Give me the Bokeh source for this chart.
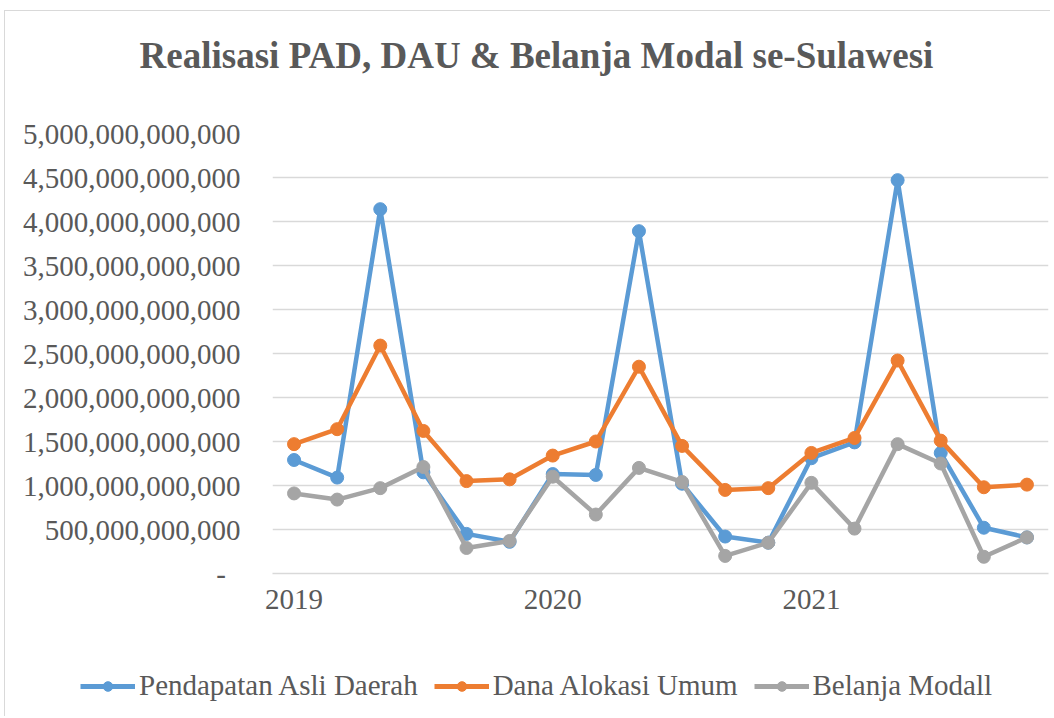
from bokeh.plotting import figure
from bokeh.models import Range1d, FixedTicker, Legend, LegendItem, Label
from bokeh.layouts import column
from bokeh.embed import file_html
from bokeh.resources import INLINE

# ---- data ----
periods = list(range(18))  # 6 periods per year, 2019-2021
year_ticks = [0, 6, 12]
year_labels = ["2019", "2020", "2021"]

pad = [1.29e12, 1.09e12, 4.14e12, 1.15e12, 0.45e12, 0.36e12,
       1.13e12, 1.12e12, 3.89e12, 1.02e12, 0.42e12, 0.35e12,
       1.31e12, 1.49e12, 4.47e12, 1.37e12, 0.52e12, 0.41e12]
dau = [1.47e12, 1.64e12, 2.59e12, 1.62e12, 1.05e12, 1.07e12,
       1.34e12, 1.50e12, 2.35e12, 1.45e12, 0.95e12, 0.97e12,
       1.37e12, 1.54e12, 2.42e12, 1.51e12, 0.98e12, 1.01e12]
belanja = [0.91e12, 0.84e12, 0.97e12, 1.21e12, 0.29e12, 0.37e12,
           1.10e12, 0.67e12, 1.20e12, 1.04e12, 0.20e12, 0.35e12,
           1.03e12, 0.51e12, 1.47e12, 1.25e12, 0.19e12, 0.41e12]

series_names = ["Pendapatan Asli Daerah", "Dana Alokasi Umum", "Belanja Modall"]
series_colors = ["#5b9bd5", "#ed7d31", "#a5a5a5"]

y_ticks = [0, 0.5e12, 1e12, 1.5e12, 2e12, 2.5e12, 3e12, 3.5e12, 4e12, 4.5e12, 5e12]
y_tick_labels = ["-\u00a0\u00a0", "500,000,000,000", "1,000,000,000,000", "1,500,000,000,000",
                 "2,000,000,000,000", "2,500,000,000,000", "3,000,000,000,000",
                 "3,500,000,000,000", "4,000,000,000,000", "4,500,000,000,000",
                 "5,000,000,000,000"]

title_text = "Realisasi PAD, DAU & Belanja Modal se-Sulawesi"

FONT = "Liberation Serif"
TXT = "#595959"
GRID = "#d9d9d9"
W = 1045  # content starts at page x=5 (4px margin + 1px border)

# ---- title strip ----
hd = figure(width=W, height=89, output_backend="svg", toolbar_location=None,
            x_range=Range1d(0, W), y_range=Range1d(0, 89),
            x_axis_type=None, y_axis_type=None,
            min_border_left=0, min_border_right=0, min_border_top=0, min_border_bottom=0)
hd.frame_align = False
hd.outline_line_color = None
hd.xgrid.grid_line_color = None
hd.ygrid.grid_line_color = None
hd.add_layout(Label(x=531, y=45, text=title_text, text_align="center",
                    text_baseline="middle", text_font=FONT, text_font_size="37px",
                    text_font_style="bold", text_color=TXT))

# ---- main chart ----
p = figure(width=W, height=550, output_backend="svg", toolbar_location=None,
           x_range=Range1d(-0.5, 17.5), y_range=Range1d(0, 5e12),
           min_border_left=267, min_border_right=2, min_border_top=33,
           min_border_bottom=77)
p.frame_align = False
p.outline_line_color = None
p.background_fill_color = "white"
p.border_fill_color = "white"

p.xaxis.ticker = FixedTicker(ticks=year_ticks)
p.xaxis.major_label_overrides = {t: l for t, l in zip(year_ticks, year_labels)}
p.xaxis.axis_line_color = GRID
p.xaxis.axis_line_width = 1.5
p.xaxis.major_tick_line_color = None
p.xaxis.minor_tick_line_color = None
p.xaxis.major_tick_out = 0
p.xaxis.major_label_standoff = 16
p.xaxis.major_label_text_font = FONT
p.xaxis.major_label_text_font_size = "29px"
p.xaxis.major_label_text_color = TXT

p.yaxis.ticker = FixedTicker(ticks=y_ticks)
p.yaxis.major_label_overrides = {t: l for t, l in zip(y_ticks, y_tick_labels)}
p.yaxis.axis_line_color = None
p.yaxis.major_tick_line_color = None
p.yaxis.minor_tick_line_color = None
p.yaxis.major_tick_out = 0
p.yaxis.major_label_standoff = 32
p.yaxis.major_label_text_font = FONT
p.yaxis.major_label_text_font_size = "29px"
p.yaxis.major_label_text_color = TXT

p.xgrid.grid_line_color = None
p.ygrid.ticker = FixedTicker(ticks=y_ticks)
p.ygrid.grid_line_color = GRID
p.ygrid.grid_line_width = 1.5

for vals, col in zip([pad, dau, belanja], series_colors):
    p.line(periods, vals, line_color=col, line_width=4.5, line_join="round")
    p.scatter(periods, vals, marker="circle", size=13, fill_color=col, line_color=col)

# ---- legend strip (separate figure, data kept out of view) ----
lg = figure(width=W, height=66, output_backend="svg", toolbar_location=None,
            x_range=Range1d(-0.5, 17.5), y_range=Range1d(10e12, 11e12),
            x_axis_type=None, y_axis_type=None,
            min_border_left=0, min_border_right=0, min_border_top=0, min_border_bottom=0)
lg.frame_align = False
lg.outline_line_color = None
lg.xgrid.grid_line_color = None
lg.ygrid.grid_line_color = None

items = []
for name, vals, col in zip(series_names, [pad, dau, belanja], series_colors):
    r1 = lg.line(periods, vals, line_color=col, line_width=5)
    r2 = lg.scatter(periods, vals, marker="circle", size=13, fill_color=col, line_color=col)
    items.append(LegendItem(label=name, renderers=[r1, r2]))

legend = Legend(items=items, orientation="horizontal", location=(75, 14),
                label_text_font=FONT, label_text_font_size="29px", label_text_color=TXT,
                glyph_width=55, glyph_height=24, label_standoff=4, spacing=16,
                padding=0, margin=0, border_line_color=None, background_fill_alpha=0)
lg.add_layout(legend)

layout = column(hd, p, lg, spacing=0, margin=(10, 0, 0, 4),
                styles={"border-left": "1px solid #d9d9d9", "border-top": "1px solid #d9d9d9"})

open("out.html", "w").write(file_html(layout, INLINE))
